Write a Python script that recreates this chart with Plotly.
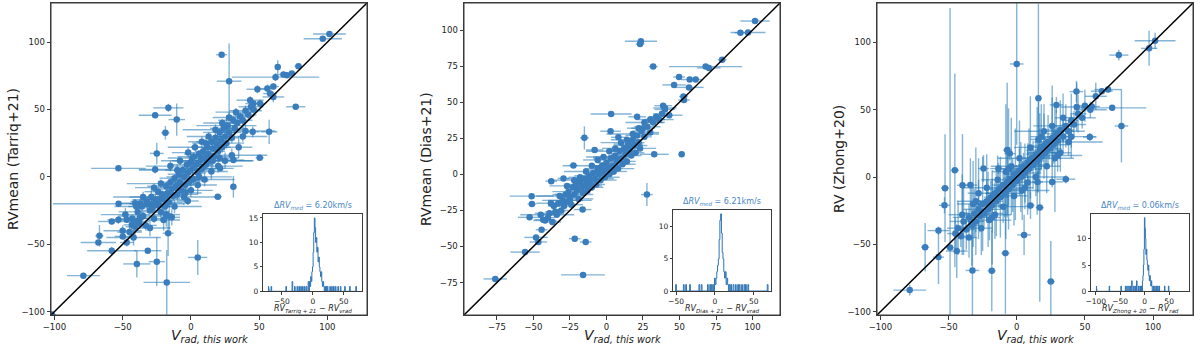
import plotly.graph_objects as go

# ---- Tarriq+21 vs this work -------------------------------------------------
tarriq_vrad = [101.5, 96.6, 22.5, 28, 63.6, 78.8, 67.8, 70.3, 73.9, 62,
               48.7, 56, 60.4, 76.8, 43.4, 45.8, 50.7, 58, 60.4, -16.5,
               -26.2, -10.4, -18.7, -53.1, 57.3, 50.4, 45.3, -53, -40.9, -37.2,
               -32.3, -28.6, -58, -53.1, -47, -43.3, -39.6, -37.2, -67, -67.8,
               -58, -49.9, -47, -31.6, -39.6, -25, -16.7, -17.7, 5, -78.8,
               -101.9, -15.8, 31.1, 19.7, -2.3, -26.2, -25, 31.1, 21.4, -14,
               -45, -43, -41, -39, -38, -36, -35, -33, -32, -30,
               -29, -28, -27, -26, -24, -24, -23, -22, -21, -20,
               -19, -18, -17, -16, -15, -14, -13, -12, -11, -10,
               -9, -8, -7, -6, -5, -4, -3, -2, -1, 0,
               1, 2, 2, 4, 5, 6, 7, 8, 9, 10,
               11, 12, 13, 14, 15, 16, 17, 18, 19, 20,
               21, 22, 23, 24, 25, 26, 27, 28, 30, 31,
               32, 34, 36, 38, 40, 42, 44, 46,
               -35, -30, -22, -20, -15, -12, -8, -5, -2, 0,
               3, 5, 8, 10, 13, 15, 18, 20, 23, 25,
               28, 30, 33, 35, 38, 40, -40, -42, -27, -18,
               -10, -4, 1, 6, 11, 16, 21, 26, -48, -50]
tarriq_rv = [106, 102.5, 90.6, 71, 81.5, 82, 75.9, 75.4, 76.6, 74,
             65, 65.5, 67, 52, 56.9, 54.4, 54.4, 61.8, 59.3, 51.2,
             45.7, 42.5, 32.7, 6.3, 33.4, 14.2, 33.4, -20, -19.5, -20,
             -18.3, -20.8, -33.1, -31.9, -31.9, -35.6, -33.1, -30.6, -43.7, -48.7,
             -54.8, -44.2, -48.7, -54.8, -64.6, -62.9, -41.8, -78.3, -59.8, -73.3,
             -102.1, -29.2, -7.3, -14.7, -17.9, 5.5, 17.4, 12.5, 6.3, -30,
             -41, -31, -37, -26, -34, -22, -29, -36, -20, -25,
             -15, -23, -31, -18, -21, -11, -17, -26, -13, -16,
             -22, -7, -12, -19, -4, -9, -14, -1, -7, -13,
             2, -4, -10, 5, 0, -6, 9, 3, -3, 11,
             6, -2, 15, 9, 3, 17, 12, 6, 19, 14,
             9, 22, 17, 12, 26, 21, 15, 29, 24, 19,
             33, 27, 22, 36, 30, 25, 38, 33, 29, 42,
             36, 40, 45, 42, 49, 46, 52, 50,
             -15, -38, -5, -32, 8, -22, 12, -15, 18, -10,
             22, -6, 26, -2, 30, 4, 35, 8, 40, 12,
             44, 16, 48, 22, 30, 34, -22, -45, -8, -28,
             5, -12, 14, 0, 25, 12, 14, 38, -28, -40]
tarriq_ex = [12, 14, 4, 9, 2, 3, 6, 4, 3, 32,
             8, 6, 4, 7, 10, 6, 4, 5, 8, 11,
             12, 6, 3, 20, 6, 3, 5, 48, 10, 8,
             12, 9, 10, 8, 12, 6, 9, 7, 3, 13,
             18, 6, 5, 10, 10, 6, 4, 17, 7, 12,
             3, 3, 2, 3, 8, 12, 5, 8, 10, 6,
             9, 12, 7, 14, 6, 10, 18, 8, 11, 6,
             16, 9, 5, 13, 7, 10, 20, 6, 9, 12,
             5, 14, 8, 10, 6, 12, 9, 11, 6, 15,
             8, 10, 5, 13, 9, 6, 11, 7, 14, 6,
             10, 5, 12, 8, 6, 11, 7, 13, 6, 10,
             5, 12, 8, 6, 11, 7, 15, 6, 9, 5,
             12, 8, 6, 10, 7, 13, 6, 9, 5, 11,
             8, 6, 10, 7, 12, 6, 9, 5,
             22, 15, 25, 12, 18, 20, 14, 24, 12, 16,
             20, 14, 10, 22, 16, 12, 24, 18, 14, 20,
             12, 26, 15, 10, 18, 22, 16, 20, 14, 10,
             28, 12, 18, 24, 10, 30, 14, 22, 18, 14]
tarriq_ey = [2, 2, 1, 28, 5, 2, 2, 2, 2, 3,
             3, 3, 2, 1, 3, 2, 3, 2, 4, 3,
             2, 12, 5, 2, 9, 1, 4, 2, 3, 4,
             3, 5, 2, 3, 2, 4, 3, 2, 8, 2,
             3, 2, 3, 2, 10, 18, 17, 24, 13, 2,
             2, 10, 8, 2, 3, 3, 8, 2, 2, 6,
             4, 3, 6, 4, 3, 8, 3, 4, 5, 3,
             6, 4, 3, 5, 4, 3, 4, 7, 3, 5,
             4, 3, 6, 4, 3, 7, 4, 3, 5, 4,
             3, 6, 4, 3, 5, 4, 3, 6, 4, 3,
             5, 4, 3, 7, 4, 3, 5, 4, 3, 6,
             4, 3, 5, 4, 3, 6, 4, 3, 5, 4,
             3, 7, 4, 3, 5, 4, 3, 6, 4, 3,
             5, 4, 3, 6, 4, 3, 5, 4,
             4, 6, 3, 8, 4, 5, 3, 6, 4, 5,
             3, 7, 4, 5, 3, 6, 4, 5, 3, 6,
             4, 5, 3, 8, 4, 5, 4, 6, 3, 9,
             4, 5, 3, 6, 4, 5, 3, 6, 5, 4]

# ---- Dias+21 vs this work ---------------------------------------------------
dias_vrad = [101.7, 96.9, 91.7, 23.6, 23, 79.2, 32, 67.9, 70.1, 49.7,
             57, 61.1, 46.3, 56.5, 52.7, 53.1, 38.8, 40, 3.2, 21,
             2.8, -15.1, 8.2, -8.1, 32.7, 51.5, 27.7, -22.6, -29.4, -37.8,
             -51.2, -51, -52.6, -43.3, -44.4, -48.2, -46.6, -55.7, -21.7, -14.2,
             -16, -76.1, -16.3,
             -42, -40, -39, -37, -36, -34, -33, -31, -30, -29,
             -28, -27, -26, -25, -24, -23, -22, -21, -20, -19,
             -18, -17, -16, -15, -14, -13, -12, -11, -10, -9,
             -8, -7, -6, -5, -4, -3, -2, -1, 0, 1,
             2, 3, 4, 5, 6, 7, 8, 9, 10, 11,
             12, 13, 14, 15, 16, 17, 18, 19, 20, 21,
             22, 23, 24, 26, 28, 30, 32, 34, 36, 38,
             40, 43,
             -45, -38, -32, -27, -22, -18, -14, -10, -6, -2,
             2, 6, 10, 14, 18, 22, 26, 30, -35, -25,
             -15, -5, 5, 15, 25]
dias_rv = [106.3, 98.4, 98.2, 92.3, 90.3, 79.4, 74.7, 74.7, 73.8, 67.5,
           65.7, 65.7, 62, 60.3, 54, 51.5, 47.6, 46, 41.8, 39.9,
           29.9, 25.3, 25.7, 16.9, 13.9, 13.9, -14, 6.2, -2.8, -4.7,
           -15.1, -20.5, -29.8, -31.4, -38.4, -43.7, -46.9, -53.9, -44.6, -46.9,
           -69.7, -72.5, -24.4,
           -32, -30, -27, -33, -22, -28, -20, -25, -18, -22,
           -14, -19, -12, -16, -21, -9, -14, -7, -11, -17,
           -5, -9, -13, -3, -7, -11, -1, -5, -9, 1,
           -3, -7, 4, 0, -4, 6, 2, -2, 8, 4,
           0, 11, 6, 2, 13, 9, 4, 16, 11, 7,
           18, 14, 9, 21, 17, 13, 24, 20, 15, 27,
           22, 18, 30, 26, 33, 29, 36, 40, 38, 42,
           45, 41,
           -28, -20, -15, -8, -4, -2, 2, 6, 10, 12,
           16, 18, 22, 24, 28, 32, 36, 38, -26, -18,
           -8, 3, 12, 20, 32]
dias_ex = [10, 12, 4, 11, 3, 3, 3, 25, 8, 4,
           6, 4, 8, 10, 3, 4, 6, 8, 14, 6,
           7, 3, 5, 6, 10, 2, 4, 3, 4, 4,
           15, 3, 8, 6, 4, 8, 6, 10, 4, 4,
           15, 8, 6,
           8, 5, 10, 6, 4, 12, 7, 5, 14, 6,
           9, 4, 11, 6, 8, 5, 13, 7, 4, 10,
           6, 9, 5, 12, 7, 4, 10, 6, 8, 5,
           13, 6, 9, 4, 11, 7, 5, 10, 6, 8,
           4, 12, 6, 9, 5, 7, 11, 6, 4, 9,
           5, 8, 6, 10, 4, 7, 5, 9, 6, 8,
           4, 11, 6, 5, 9, 6, 8, 5, 10, 6,
           7, 9,
           14, 10, 16, 12, 18, 8, 15, 20, 10, 12,
           16, 9, 14, 11, 18, 8, 13, 10, 7, 15,
           12, 9, 14, 10, 8]
dias_ey = [1, 1, 1, 1, 1, 1, 1, 1, 1, 1,
           1, 1, 1, 1, 1, 1, 1, 1, 1, 1,
           1, 8, 1, 1, 1, 1, 8, 1, 1, 1,
           1, 1, 1, 1, 1, 1, 1, 1, 1, 1,
           1, 1, 1,
           1, 2, 1, 1, 2, 1, 1, 2, 1, 1,
           1, 2, 1, 1, 1, 2, 1, 1, 1, 2,
           1, 1, 1, 2, 1, 1, 1, 2, 1, 1,
           1, 2, 1, 1, 1, 2, 1, 1, 1, 2,
           1, 1, 1, 2, 1, 1, 1, 2, 1, 1,
           1, 2, 1, 1, 1, 2, 1, 1, 1, 2,
           1, 1, 1, 2, 1, 1, 1, 2, 1, 1,
           1, 2,
           1, 1, 2, 1, 1, 1, 2, 1, 1, 1,
           2, 1, 1, 1, 2, 1, 1, 1, 1, 2,
           1, 1, 1, 2, 1]

# ---- Zhong+20 vs this work --------------------------------------------------
zhong_vrad = [101.5, 97.1, 74.9, 0, 15.9, 29.1, 70, 76.8, 53.6, 43.8,
              62.4, 67, 55, -5.1, -24.4, -45.4, -48.9, -52.6, -53, -39.8,
              -34, -57.4, -57.4, -67.2, -78.5, -32.5, -18.3, -8.3, 5.4, 10.1,
              16.9, 26, 36, 25, 15.2, -13.4, -7,
              -45, -43, -41, -39, -37, -35, -33, -31, -30, -28,
              -27, -25, -24, -22, -21, -19, -18, -16, -15, -13,
              -12, -10, -9, -7, -6, -4, -3, -1, 0, 2,
              3, 5, 6, 8, 9, 11, 12, 14, 15, 17,
              18, 20, 21, 23, 24, 26, 27, 29, 30, 32,
              34, 36, 38, 40, 42, 45, 48, 50, 54, 58,
              -40, -35, -30, -26, -22, -18, -14, -10, -6, -2,
              2, 6, 10, 14, 18, 22, 26, 30, 34, 38,
              -44, -32, -20, -8, 4, 16, 28, 40, -28, -16,
              -4, 8, 20, 32, 44]
zhong_rv = [101.2, 95.6, 90.6, 84, 58.6, 53.6, 51.4, 37.9, 29.7, 63.5,
            63.8, 65, 52.4, 17.4, 6.3, 5, -52.4, -8.3, -21, -6.1,
            -6, -39.8, -59.5, -52.1, -84, -69.4, -69.7, -56.6, -43, -21.1,
            -22.6, -3.6, -1.6, -77.6, -3.6, 6.3, 20,
            -42, -38, -44, -33, -39, -30, -36, -27, -33, -24,
            -29, -20, -27, -18, -24, -15, -21, -12, -18, -9,
            -15, -6, -12, -4, -9, -1, -6, 2, -3, 5,
            0, 8, 3, 11, 6, 14, 9, 17, 12, 20,
            15, 23, 18, 26, 21, 29, 24, 32, 27, 35,
            30, 38, 34, 42, 39, 47, 44, 53, 50, 60,
            -28, -45, -18, -38, -8, -30, -2, -22, 6, -14,
            14, -8, 22, 0, 30, 8, 38, 16, 44, 26,
            -55, -20, -32, 4, -10, 28, 14, 30, -12, -28,
            8, -4, 34, 18, 52]
zhong_ex = [15, 6, 7, 5, 2, 5, 25, 5, 5, 5,
            8, 10, 6, 4, 4, 3, 3, 3, 4, 4,
            5, 8, 4, 3, 12, 5, 3, 3, 5, 3,
            3, 8, 7, 3, 4, 6, 3,
            6, 8, 5, 10, 6, 12, 5, 9, 6, 11,
            5, 8, 14, 6, 9, 5, 12, 7, 5, 10,
            6, 8, 13, 5, 9, 6, 11, 7, 5, 10,
            6, 8, 12, 5, 9, 6, 11, 7, 5, 10,
            6, 8, 13, 5, 9, 6, 11, 7, 5, 10,
            6, 8, 12, 5, 9, 6, 10, 7, 12, 8,
            10, 6, 14, 8, 18, 6, 12, 20, 8, 10,
            16, 6, 12, 22, 8, 10, 14, 18, 6, 25,
            8, 12, 16, 10, 20, 6, 14, 18, 8, 12,
            15, 10, 22, 8, 12]
zhong_ey = [6, 13, 4, 60, 70, 6, 2, 27, 3, 8,
            2, 2, 3, 5, 10, 72, 178, 40, 6, 38,
            20, 3, 20, 18, 4, 40, 30, 45, 15, 10,
            70, 4, 3, 30, 8, 4, 50,
            12, 20, 8, 25, 15, 10, 30, 18, 8, 22,
            12, 35, 10, 16, 28, 12, 20, 8, 26, 14,
            30, 10, 18, 24, 12, 8, 20, 34, 12, 16,
            26, 10, 22, 14, 30, 8, 18, 12, 40, 16,
            10, 24, 12, 20, 8, 30, 14, 18, 10, 22,
            12, 16, 8, 20, 10, 14, 8, 12, 6, 10,
            30, 15, 40, 20, 25, 35, 18, 12, 45, 22,
            28, 16, 38, 14, 24, 20, 30, 12, 18, 10,
            20, 32, 15, 50, 22, 28, 40, 16, 26, 18,
            36, 24, 20, 14, 18]

# ---- inset histograms of RV differences (bin centre, count; 1 km/s bins) ----
hist_tarriq_bins = [-71, -67, -43, -33, -29, -25, -22, -19, -16, -13,
                    -10, -7, -5, -4, -3, -2, -1, 0, 1, 2,
                    3, 4, 5, 6, 7, 8, 9, 10, 11, 12,
                    13, 14, 15, 16, 17, 18, 20, 22, 24, 28,
                    31, 34, 37, 41, 45, 52, 60, 70]
hist_tarriq_counts = [1, 1, 1, 2, 1, 1, 1, 1, 1, 1,
                      1, 2, 2, 1, 3, 2, 4, 5, 8, 12,
                      15, 13, 10, 11, 8, 9, 6, 7, 5, 4,
                      3, 4, 2, 1, 2, 1, 1, 1, 1, 1,
                      1, 1, 1, 1, 1, 1, 1, 1]
hist_dias_bins = [-50, -40, -37, -32, -20, -17, -9, -6, -4, -2,
                  0, 1, 2, 3, 4, 5, 6, 7, 8, 9,
                  10, 11, 12, 13, 14, 15, 16, 17, 19, 21,
                  24, 27, 30, 32, 35, 38, 40, 43, 68]
hist_dias_counts = [1, 1, 1, 1, 1, 1, 1, 1, 1, 1,
                    2, 1, 2, 3, 4, 5, 8, 11, 12, 9,
                    6, 5, 3, 2, 3, 1, 2, 1, 1, 1,
                    1, 1, 1, 1, 1, 1, 1, 1, 1]
hist_zhong_bins = [-98, -72, -48, -39, -36, -32, -29, -26, -22, -19,
                   -16, -12, -9, -6, -4, -3, -2, -1, 0, 1,
                   2, 3, 4, 5, 6, 7, 8, 9, 10, 11,
                   12, 13, 14, 15, 18, 21, 24, 27, 30, 41,
                   49]
hist_zhong_counts = [1, 1, 1, 1, 1, 1, 1, 2, 1, 1,
                     2, 1, 1, 1, 2, 3, 5, 8, 14, 12,
                     10, 7, 8, 6, 5, 4, 5, 3, 2, 3,
                     2, 1, 2, 1, 1, 1, 1, 1, 1, 1,
                     1]

median_offsets = ["6.20", "6.21", "0.06"]
y_titles = ["RVmean (Tarriq+21)", "RVmean (Dias+21)", "RV (Zhong+20)"]
diff_labels = [
    "<i>RV</i><sub><i>Tarriq + 21</i></sub><i> − RV</i><sub><i>vrad</i></sub>",
    "<i>RV</i><sub><i>Dias + 21</i></sub><i> − RV</i><sub><i>vrad</i></sub>",
    "<i>RV</i><sub><i>Zhong + 20</i></sub><i> − RV</i><sub><i>rad</i></sub>",
]
main_ticks = [
    [-100, -50, 0, 50, 100],
    [-75, -50, -25, 0, 25, 50, 75, 100],
    [-100, -50, 0, 50, 100],
]
inset_xticks = [[-50, 0, 50], [-50, 0, 50], [-100, -50, 0, 50]]
inset_yticks = [[0, 5, 10, 15], [0, 5, 10], [0, 5, 10]]

BLUE = "#3a7dbd"
ERR = "rgba(31, 119, 180, 0.55)"
LINE = "#3b3b3b"
TEXT = "#222222"
FONT = "DejaVu Sans"
W, H = 1200, 348


def px_x(px):
    return px / W


def px_y(px):
    return (H - px) / H


def step_outline(centers, counts, width=1.0):
    dense = {int(c): n for c, n in zip(centers, counts)}
    lo, hi = min(dense), max(dense)
    xs, ys = [lo - width / 2], [0]
    for b in range(lo, hi + 1):
        n = dense.get(b, 0)
        xs += [b - width / 2, b + width / 2]
        ys += [n, n]
    xs.append(hi + width / 2)
    ys.append(0)
    return xs, ys


def axis(domain, rng, ticks, anchor, size, ticklen):
    return dict(
        domain=domain, range=rng, tickvals=ticks, anchor=anchor,
        showline=True, mirror=True, linecolor=LINE, linewidth=1,
        ticks="outside", ticklen=ticklen, tickwidth=1, tickcolor=LINE,
        tickfont=dict(size=size, color=TEXT, family=FONT),
        showgrid=False, zeroline=False, fixedrange=True, automargin=False,
    )


# pixel geometry of the three panels and their insets
main_px = [(51, 367), (464, 780), (877, 1193)]
main_range = [[-102.5, 129], [-97.5, 118.8], [-102.5, 129.3]]
inset_px = [((263.3, 362.3), (214.3, 291.3)),
            ((673.3, 771.3), (210, 291)),
            ((1091.3, 1188.7), (214, 291.3))]
inset_xrange = [[-80, 80], [-53.5, 72.7], [-109, 90]]
inset_yrange = [[0, 15.75], [0, 12.6], [0, 14.7]]

scatter_data = [
    (tarriq_vrad, tarriq_rv, tarriq_ex, tarriq_ey),
    (dias_vrad, dias_rv, dias_ex, dias_ey),
    (zhong_vrad, zhong_rv, zhong_ex, zhong_ey),
]
hist_data = [
    (hist_tarriq_bins, hist_tarriq_counts),
    (hist_dias_bins, hist_dias_counts),
    (hist_zhong_bins, hist_zhong_counts),
]

fig = go.Figure()
layout = dict(
    template="none",
    width=W, height=H, margin=dict(l=0, r=0, t=0, b=0, pad=0, autoexpand=False),
    paper_bgcolor="white", plot_bgcolor="white", showlegend=False,
    font=dict(family=FONT, color=TEXT),
)
annotations = []
shapes = []
y_dom = [px_y(315), px_y(3)]

for i in range(3):
    mx, my = ("x", "y") if i == 0 else (f"x{i + 1}", f"y{i + 1}")
    ix, iy = f"x{i + 4}", f"y{i + 4}"
    vx, vy, ex, ey = scatter_data[i]
    fig.add_trace(go.Scatter(
        x=vx, y=vy, mode="markers", xaxis=mx, yaxis=my,
        marker=dict(size=6.5, color=BLUE, line=dict(width=0)),
        error_x=dict(type="data", array=ex, color=ERR, thickness=1.4, width=0),
        error_y=dict(type="data", array=ey, color=ERR, thickness=1.4, width=0),
        hoverinfo="skip",
    ))
    lo, hi = main_range[i]
    fig.add_trace(go.Scatter(
        x=[lo - 10, hi + 10], y=[lo - 10, hi + 10], mode="lines",
        xaxis=mx, yaxis=my, line=dict(color="black", width=1.5), hoverinfo="skip",
    ))
    hx, hy = step_outline(*hist_data[i])
    fig.add_trace(go.Scatter(
        x=hx, y=hy, mode="lines", xaxis=ix, yaxis=iy,
        line=dict(color="#2f74b5", width=1), hoverinfo="skip",
    ))

    xd = [px_x(main_px[i][0]), px_x(main_px[i][1])]
    layout["xaxis" if i == 0 else f"xaxis{i + 1}"] = axis(xd, main_range[i], main_ticks[i], my, 8.5, 3.5)
    layout["yaxis" if i == 0 else f"yaxis{i + 1}"] = axis(y_dom, main_range[i], main_ticks[i], mx, 8.5, 3.5)
    shapes.append(dict(type="rect", xref="paper", yref="paper",
                       x0=xd[0], x1=xd[1], y0=y_dom[0], y1=y_dom[1],
                       line=dict(color=LINE, width=1), fillcolor="rgba(0,0,0,0)", layer="above"))

    (ix0, ix1), (iy0, iy1) = inset_px[i]
    layout[f"xaxis{i + 4}"] = axis([px_x(ix0), px_x(ix1)], inset_xrange[i], inset_xticks[i], iy, 7.5, 2.5)
    layout[f"yaxis{i + 4}"] = axis([px_y(iy1), px_y(iy0)], inset_yrange[i], inset_yticks[i], ix, 7.5, 2.5)

    cx = (main_px[i][0] + main_px[i][1]) / 2
    icx = (ix0 + ix1) / 2
    annotations += [
        dict(text="<i>V</i><sub><i>rad, this work</i></sub>", x=px_x(cx), y=px_y(336),
             xref="paper", yref="paper", showarrow=False, xanchor="center", yanchor="middle",
             font=dict(size=14, color=TEXT, family=FONT)),
        dict(text=y_titles[i], x=px_x(main_px[i][0] - 38), y=px_y(159),
             xref="paper", yref="paper", showarrow=False, textangle=-90,
             xanchor="center", yanchor="middle", font=dict(size=14, color=TEXT, family=FONT)),
        dict(text=f"Δ<i>RV</i><sub><i>med</i></sub> = {median_offsets[i]}km/s",
             x=px_x(icx), y=px_y(iy0 - 1), xref="paper", yref="paper", showarrow=False,
             xanchor="center", yanchor="bottom", font=dict(size=8, color="#4a86c5", family=FONT)),
        dict(text=diff_labels[i], x=px_x(icx), y=px_y(309), xref="paper", yref="paper",
             showarrow=False, xanchor="center", yanchor="middle",
             font=dict(size=8, color=TEXT, family=FONT)),
    ]

layout["annotations"] = annotations
layout["shapes"] = shapes
fig.update_layout(**layout)
fig.write_html("out.html", config={"displayModeBar": False},
               post_script="document.body.style.margin = '0';")
